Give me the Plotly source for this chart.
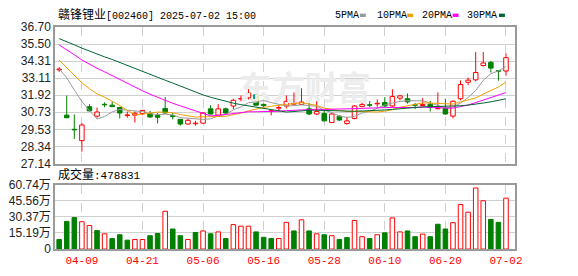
import plotly.graph_objects as go
import pandas as pd

W, H = 578, 276

# ---------------- data ----------------
dates = ["04-03", "04-07", "04-08", "04-09", "04-10", "04-11", "04-14", "04-15", "04-16", "04-17",
         "04-18", "04-21", "04-22", "04-23", "04-24", "04-25", "04-28", "04-29", "04-30",
         "05-06", "05-07", "05-08", "05-09", "05-12", "05-13", "05-14", "05-15", "05-16", "05-19",
         "05-20", "05-21", "05-22", "05-23", "05-26", "05-27", "05-28", "05-29", "05-30",
         "06-03", "06-04", "06-05", "06-06", "06-09", "06-10", "06-11", "06-12", "06-13", "06-16",
         "06-17", "06-18", "06-19", "06-20", "06-23", "06-24", "06-25", "06-26", "06-27", "06-30",
         "07-01", "07-02"]

open_ = [33.70, 30.53, 29.53, 28.75, 31.12, 30.46, 31.27, 31.23, 31.06, 30.50,
         30.53, 30.64, 30.64, 30.50, 31.00, 30.50, 30.24, 29.91, 29.93, 29.97,
         30.97, 30.53, 30.97, 31.17, 31.66, 31.74, 31.96, 31.28, 30.80, 31.02,
         31.17, 31.30, 31.28, 30.97, 30.61, 30.64, 30.02, 30.46, 29.95, 30.30,
         31.14, 31.26, 31.32, 31.41, 31.17, 31.72, 31.68, 31.25, 31.20, 31.30,
         30.98, 31.01, 30.46, 31.68, 32.83, 33.00, 34.00, 34.22, 33.64, 33.62]
high = [33.89, 31.90, 30.58, 29.97, 31.30, 31.06, 31.43, 31.45, 31.12, 30.79,
        30.79, 30.90, 30.84, 30.68, 31.79, 30.68, 30.26, 30.28, 30.13, 30.75,
        31.23, 31.30, 31.06, 31.68, 31.90, 32.34, 31.98, 31.34, 30.90, 31.22,
        31.90, 32.12, 32.41, 31.39, 31.50, 30.90, 30.68, 30.53, 30.42, 31.23,
        31.39, 31.52, 31.63, 31.79, 32.34, 31.94, 32.05, 31.39, 31.72, 31.52,
        32.12, 31.68, 31.57, 32.96, 33.16, 34.95, 34.95, 34.33, 33.67, 34.84]
low = [33.56, 30.35, 28.87, 27.98, 30.79, 30.35, 31.08, 31.08, 30.30, 30.35,
       30.02, 30.53, 30.35, 29.95, 30.64, 30.24, 29.80, 29.86, 29.80, 29.95,
       30.57, 30.46, 30.61, 30.95, 31.50, 31.63, 31.20, 31.08, 30.52, 30.80,
       31.00, 31.23, 31.23, 30.53, 30.53, 30.08, 29.97, 30.13, 29.86, 30.24,
       31.08, 31.08, 31.12, 31.12, 31.12, 31.56, 31.34, 30.95, 31.12, 30.79,
       30.95, 30.57, 30.30, 31.57, 32.63, 32.89, 33.93, 33.51, 32.94, 33.29]
close = [33.75, 30.35, 29.50, 29.84, 30.83, 30.75, 31.25, 31.13, 30.68, 30.55,
         30.66, 30.86, 30.40, 30.38, 30.68, 30.43, 29.91, 30.17, 29.97, 30.68,
         30.61, 30.97, 30.68, 31.57, 31.70, 32.08, 31.23, 31.20, 30.84, 31.06,
         31.50, 31.40, 31.45, 30.61, 30.79, 30.13, 30.61, 30.19, 30.13, 31.17,
         31.28, 31.22, 31.36, 31.17, 31.83, 31.88, 31.46, 31.22, 31.28, 31.08,
         31.02, 30.61, 31.50, 32.67, 32.98, 33.51, 34.18, 33.82, 33.60, 34.55]
# volume, in 10k lots (万手)
volume = [8.98, 26.03, 29.62, 25.73, 22.14, 17.36, 14.36, 9.87, 13.46, 8.38,
          8.98, 8.98, 12.57, 14.66, 35.61, 18.85, 12.57, 8.98, 15.56, 17.06,
          14.36, 16.16, 9.87, 23.04, 21.54, 21.54, 16.16, 11.07, 9.87, 9.87,
          25.13, 17.06, 27.53, 17.06, 14.36, 13.46, 12.57, 8.98, 10.77, 26.93,
          11.67, 9.87, 13.46, 15.26, 29.32, 16.16, 17.06, 11.67, 14.06, 11.67,
          23.34, 18.85, 24.83, 41.89, 34.71, 57.45, 45.48, 27.83, 25.13, 47.8831]
# closes of the 29 sessions before 04-03 (estimated from where the MA lines start)
prior_close = [36.2, 36.5, 36.9, 37.3, 37.0, 36.8, 36.6, 37.1, 36.9, 36.3,
               36.6, 36.9, 37.2, 36.8, 36.4, 36.2, 36.5, 36.7, 36.1, 35.6,
               35.5, 35.2, 34.9, 34.8, 34.5, 33.55, 33.75, 33.85, 34.0]

ma_periods = [5, 10, 20, 30]
tick_dates = ["04-09", "04-21", "05-06", "05-16", "05-28", "06-10", "06-20", "07-02"]
price_ticks = [27.14, 28.34, 29.53, 30.73, 31.92, 33.11, 34.31, 35.50, 36.70]
vol_ticks = [0, 15.19, 30.37, 45.56, 60.74]
vol_tick_text = ["0", "15.19万", "30.37万", "45.56万", "60.74万"]
title_name = "赣锋锂业"
title_rest = "[002460] 2025-07-02 15:00"
# --------------------------------------

RED = "#ff0000"
GREEN = "#008000"
MA_COLORS = ["#9a9a9a", "#f0a000", "#ff00ff", "#006633"]
GRID = "#d0d0d0"
FRAME = "#9a9a9a"
CJK = "Noto Sans CJK SC"
MONO = "Liberation Mono, " + CJK
SANS = "Liberation Sans, Arial, " + CJK

n = len(close)
xs = list(range(n))

def pxx(x):
    return x / W

def pxy(y):
    return 1 - y / H

# axis geometry (pixels)
X0, X1 = 56, 522
MAIN_T, MAIN_B = 21, 165
VOL_T, VOL_B = 187, 255
xrange_ = [-0.52, 60.16]

fig = go.Figure()

# watermark (drawn first so that it stays beneath the candles)
wm_x = xrange_[0] + (309 - X0) / (X1 - X0) * (xrange_[1] - xrange_[0])
wm_y = price_ticks[-1] - (89 - MAIN_T) / (MAIN_B - MAIN_T) * (price_ticks[-1] - price_ticks[0])
fig.add_trace(go.Scatter(x=[wm_x], y=[wm_y], mode="text", text=["东方财富"],
                         textfont=dict(family=CJK, size=33, color="#ececec", weight=700),
                         hoverinfo="skip", showlegend=False, xaxis="x", yaxis="y"))

# candle bodies
up = [c >= o for o, c in zip(open_, close)]
body_base = [min(o, c) for o, c in zip(open_, close)]
body_len = [max(abs(c - o), 0.04) for o, c in zip(open_, close)]
fig.add_trace(go.Bar(
    x=xs, y=body_len, base=body_base, width=0.6,
    marker=dict(color=["#ffffff" if u else GREEN for u in up],
                line=dict(color=[RED if u else GREEN for u in up], width=1)),
    hoverinfo="skip", showlegend=False, xaxis="x", yaxis="y"))

# wicks
for col, flag in ((RED, True), (GREEN, False)):
    wx, wy = [], []
    for i in range(n):
        if up[i] != flag:
            continue
        top = max(open_[i], close[i])
        bot = min(open_[i], close[i])
        wx += [i, i, None, i, i, None]
        wy += [high[i], top, None, bot, low[i], None]
    fig.add_trace(go.Scatter(x=wx, y=wy, mode="lines", line=dict(color=col, width=1),
                             hoverinfo="skip", showlegend=False, xaxis="x", yaxis="y"))

# moving averages
all_close = pd.Series(prior_close + close)
for p, col in zip(ma_periods, MA_COLORS):
    ma = all_close.rolling(p).mean().iloc[-n:].tolist()
    fig.add_trace(go.Scatter(x=xs, y=ma, mode="lines", line=dict(color=col, width=1),
                             hoverinfo="skip", showlegend=False, xaxis="x", yaxis="y"))

# volume
prev = [prior_close[-1]] + close[:-1]
vup = [c >= p for c, p in zip(close, prev)]
fig.add_trace(go.Bar(
    x=xs, y=volume, width=0.6,
    marker=dict(color=["#ffffff" if u else GREEN for u in vup],
                line=dict(color=[RED if u else GREEN for u in vup], width=1)),
    hoverinfo="skip", showlegend=False, xaxis="x2", yaxis="y2"))

tickvals_x = [dates.index(d) for d in tick_dates]

common_x = dict(range=xrange_, domain=[pxx(X0), pxx(X1)], tickvals=tickvals_x,
                showgrid=True, gridcolor=GRID, griddash="dash", gridwidth=1,
                showline=True, mirror=True, linecolor=FRAME, linewidth=2,
                zeroline=False, ticks="", fixedrange=True)
common_y = dict(showgrid=True, gridcolor=GRID, gridwidth=1, showline=True, mirror=True,
                linecolor=FRAME, linewidth=2, zeroline=False, ticks="",
                tickfont=dict(family=SANS, size=12, color="#222"), fixedrange=True)

fig.update_layout(
    width=W, height=H, margin=dict(l=0, r=0, t=0, b=0),
    paper_bgcolor="white", plot_bgcolor="white", showlegend=False, bargap=0,
    xaxis=dict(**common_x, anchor="y", showticklabels=False),
    yaxis=dict(**common_y, domain=[pxy(MAIN_B), pxy(MAIN_T)],
               range=[price_ticks[0], price_ticks[-1]], tickvals=price_ticks,
               ticktext=[f"{v:.2f}" for v in price_ticks], anchor="x"),
    xaxis2=dict(**common_x, anchor="y2", showticklabels=True, ticktext=tick_dates,
                tickfont=dict(family=MONO, size=11, color=RED)),
    yaxis2=dict(**common_y, domain=[pxy(VOL_B), pxy(VOL_T)],
                range=[vol_ticks[0], vol_ticks[-1]], tickvals=vol_ticks,
                ticktext=vol_tick_text, anchor="x2"),
)

annotations = []
# title
annotations.append(dict(
    xref="paper", yref="paper", x=pxx(57), y=pxy(8), xanchor="left", yanchor="middle",
    text=f'<span style="font-size:12px">{title_name}</span>{title_rest}',
    showarrow=False, font=dict(family=MONO, size=10, color="#000")))
# volume caption
annotations.append(dict(
    xref="paper", yref="paper", x=pxx(57), y=pxy(177), xanchor="left", yanchor="middle",
    text=f'<span style="font-size:12px">成交量</span>:{round(volume[-1] * 10000)}',
    showarrow=False, font=dict(family=MONO, size=11, color="#000")))

# MA legend
shapes = []
leg_x = [338, 380, 426, 472]
leg_sq = [365, 413, 459, 506]
for p, col, lx, sx in zip(ma_periods, MA_COLORS, leg_x, leg_sq):
    annotations.append(dict(
        xref="paper", yref="paper", x=pxx(lx), y=pxy(8.5), xanchor="left", yanchor="middle",
        text=f"{p}PMA", showarrow=False, font=dict(family=MONO, size=10, color="#000")))
    shapes.append(dict(type="rect", xref="paper", yref="paper",
                       x0=pxx(sx), x1=pxx(sx + 6), y0=pxy(10.5), y1=pxy(7),
                       fillcolor=col, line=dict(width=0)))

fig.update_layout(annotations=annotations, shapes=shapes)

fig.write_html("out.html", config={"displayModeBar": False, "staticPlot": True})
